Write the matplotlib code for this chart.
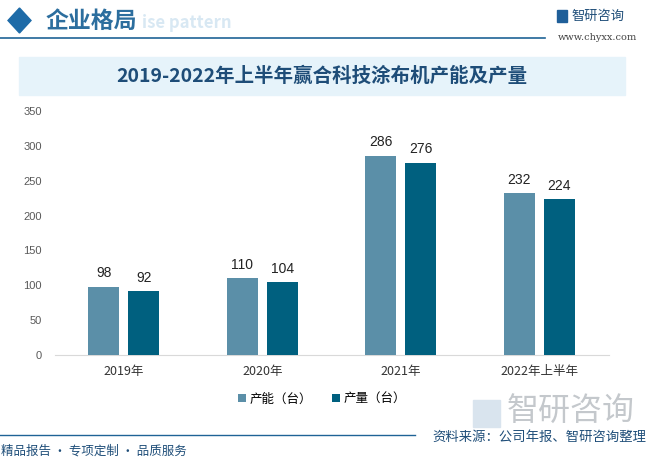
import matplotlib
matplotlib.use("Agg")
import matplotlib.pyplot as plt
from matplotlib.patches import Rectangle, Polygon
import numpy as np

plt.rcParams['font.family'] = ['Noto Sans CJK SC', 'DejaVu Sans']

categories = ["2019年", "2020年", "2021年", "2022年上半年"]
capacity = [98, 110, 286, 232]
output = [92, 104, 276, 224]
series_names = ["产能（台）", "产量（台）"]
title = "2019-2022年上半年赢合科技涂布机产能及产量"
yticks = [0, 50, 100, 150, 200, 250, 300, 350]

c1 = "#5B8FA8"
c2 = "#00607F"
W, H = 653, 463
fig = plt.figure(figsize=(W / 100, H / 100), dpi=100)

def fx(px):
    return px / W

def fy(py):
    return 1 - py / H

# header
fig.patches.append(Polygon([[fx(8), fy(20.5)], [fx(19.5), fy(8)], [fx(31), fy(20.5)], [fx(19.5), fy(33)]],
                           closed=True, transform=fig.transFigure, color="#1E6BA8", zorder=2))
fig.text(fx(46), fy(21), "企业格局", fontsize=16.5, color="#2C6E9E", va="center", ha="left", fontweight="bold")
fig.text(fx(142), fy(23), "ise pattern", fontsize=12, color="#D8E8F3", va="center", ha="left", fontweight="bold", zorder=0)
fig.add_artist(plt.Line2D([0, fx(545)], [fy(38), fy(38)], color="#1F6396", lw=1.2))
# logo
fig.patches.append(Rectangle((fx(557), fy(22)), 10 / W, 12 / H, transform=fig.transFigure, color="#1F5F99"))
fig.text(fx(571), fy(16), "智研咨询", fontsize=9.5, color="#1F4E79", va="center", ha="left")
fig.text(fx(597), fy(37), "www.chyxx.com", fontsize=7, color="#444444", va="center", ha="center", family="DejaVu Serif")

# title band
fig.patches.append(Rectangle((fx(19), fy(95)), (625 - 19) / W, (95 - 57) / H, transform=fig.transFigure,
                             color="#E6F3FA", zorder=0))
fig.text(fx(322), fy(76), title, fontsize=14, color="#1E4D78", ha="center", va="center", fontweight="bold")

# axes
ax = fig.add_axes([fx(54.5), fy(355), (608.5 - 54.5) / W, (355 - 111) / H])
ax.set_facecolor("none")
x = np.arange(len(categories))
bw = 31 / 138.5
off = 20 / 138.5
b1 = ax.bar(x - off, capacity, bw, color=c1, label=series_names[0], zorder=3)
b2 = ax.bar(x + off, output, bw, color=c2, label=series_names[1], zorder=3)
for bars, vals in ((b1, capacity), (b2, output)):
    for r, v in zip(bars, vals):
        ax.text(r.get_x() + r.get_width() / 2, v + 9, str(v), ha="center", va="bottom", fontsize=10,
                color="#222222", family="Liberation Sans")
ax.set_xlim(-0.5, len(categories) - 0.5)
ax.set_ylim(0, 350)
ax.set_yticks(yticks)
ax.set_yticklabels([str(t) for t in yticks], fontsize=8, color="#595959", family="Liberation Sans")
ax.set_xticks(x)
ax.set_xticklabels(categories, fontsize=9, color="#333333")
ax.tick_params(axis="both", length=0)
ax.tick_params(axis="y", pad=9)
ax.tick_params(axis="x", pad=7)
for s in ["top", "right", "left"]:
    ax.spines[s].set_visible(False)
ax.spines["bottom"].set_color("#D9D9D9")

leg = fig.legend(handles=[b1, b2], labels=series_names, loc="center", bbox_to_anchor=(fx(322), fy(399)),
                 ncol=2, frameon=False, fontsize=9, handlelength=0.6, handleheight=0.6,
                 handletextpad=0.3, columnspacing=1.6)

# watermark logo bottom right
fig.patches.append(Rectangle((fx(473), fy(427)), 27 / W, 27 / H, transform=fig.transFigure, color="#D9E4EE", zorder=0))
fig.text(fx(507), fy(411), "智研咨询", fontsize=23, color="#C4C8CC", va="center", ha="left", zorder=0)

# footer
fig.add_artist(plt.Line2D([0, fx(415)], [fy(435), fy(435)], color="#1F6396", lw=1.0))
fig.text(fx(1), fy(451), "精品报告 · 专项定制 · 品质服务", fontsize=9, color="#1F4E79", va="center", ha="left")
fig.text(fx(646), fy(437), "资料来源：公司年报、智研咨询整理", fontsize=9.6, color="#1F4E79", va="center", ha="right")

fig.savefig("out.png", dpi=100)
